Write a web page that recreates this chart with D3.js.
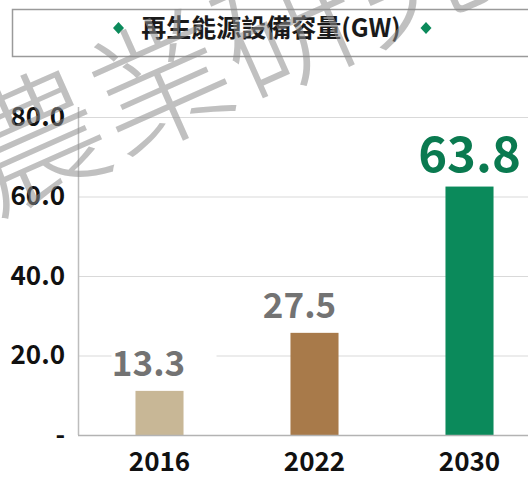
<!DOCTYPE html>
<meta charset="utf-8">
<title>再生能源設備容量</title>
<style>

body {
  margin: 0;
  background: #fff;
}

text {
  font-family: "Noto Sans CJK TC", "Noto Sans", sans-serif;
}

</style>
<body>
<script src="https://cdn.jsdelivr.net/npm/d3@7"></script>
<script>

var years = ["2016", "2022", "2030"],
    barValues = [11.1, 25.7, 62.5],
    labelValues = ["13.3", "27.5", "63.8"],
    yTicks = [0, 20, 40, 60, 80],
    yTickLabels = ["-", "20.0", "40.0", "60.0", "80.0"],
    title = "再生能源設備容量(GW)";

var w = 528,
    h = 478,
    barColors = ["#c8b796", "#a87a4a", "#0b8a5b"],
    labelColors = ["#737373", "#737373", "#0a7a50"],
    labelSizes = [35, 35, 49],
    labelShift = [-11, -15, 0];

var svg = d3.select("body").append("svg")
    .attr("width", w)
    .attr("height", h);

var x = d3.scaleBand()
    .domain(years)
    .range([82, 547])
    .paddingInner(0.69)
    .paddingOuter(0.345);

var y = d3.scaleLinear()
    .domain([0, 80])
    .range([435, 117]);

// title box
svg.append("rect")
    .attr("x", 12.5)
    .attr("y", 9.5)
    .attr("width", 540)
    .attr("height", 47)
    .style("fill", "#fff")
    .style("stroke", "#9a9a9a")
    .style("stroke-width", 1.5);

svg.append("text")
    .attr("x", 271)
    .attr("y", 37)
    .attr("text-anchor", "middle")
    .style("font-size", "25px")
    .style("font-weight", 700)
    .style("fill", "#1a1a1a")
    .text(title);

[118.5, 426].forEach(function(cx) {
  svg.append("path")
      .attr("d", "M" + cx + ",22L" + (cx + 5.5) + ",28L" + cx + ",34L" + (cx - 5.5) + ",28Z")
      .style("fill", "#0b8a5b");
});

// grid
svg.append("g").selectAll("line")
    .data(yTicks.slice(1))
  .enter().append("line")
    .attr("x1", 78)
    .attr("x2", w)
    .attr("y1", function(d) { return y(d) + 0.5; })
    .attr("y2", function(d) { return y(d) + 0.5; })
    .style("stroke", "#d9d9d9")
    .style("stroke-width", 1.2);

var yAxis = svg.append("g")
    .attr("transform", "translate(78,0)")
    .call(d3.axisLeft(y)
        .tickValues(yTicks)
        .tickSize(0)
        .tickPadding(13)
        .tickFormat(function(d, i) { return yTickLabels[i]; }));

yAxis.select(".domain").remove();
yAxis.selectAll("text")
    .style("font-family", "\"Noto Sans CJK TC\", sans-serif")
    .style("font-size", "26px")
    .style("font-weight", 600)
    .style("fill", "#111");

svg.append("line")
    .attr("x1", 78.5)
    .attr("x2", 78.5)
    .attr("y1", 107)
    .attr("y2", y(0))
    .style("stroke", "#bdbdbd")
    .style("stroke-width", 1.5);

// label backgrounds
svg.append("g").selectAll("rect")
    .data(years)
  .enter().append("rect")
    .attr("x", function(d, i) { return x(d) + x.bandwidth() / 2 + labelShift[i] - 37; })
    .attr("y", function(d, i) { return y(barValues[i]) - 16 - labelSizes[i] * 0.85; })
    .attr("width", function(d, i) { return labelSizes[i] * 3; })
    .attr("height", function(d, i) { return labelSizes[i] * 1.05; })
    .style("fill", "#fff");

svg.append("g").selectAll("rect")
    .data(years)
  .enter().append("rect")
    .attr("x", function(d) { return x(d); })
    .attr("y", function(d, i) { return y(barValues[i]); })
    .attr("width", x.bandwidth())
    .attr("height", function(d, i) { return y(0) - y(barValues[i]); })
    .style("fill", function(d, i) { return barColors[i]; });

svg.append("line")
    .attr("x1", 78)
    .attr("x2", w)
    .attr("y1", y(0) + 0.5)
    .attr("y2", y(0) + 0.5)
    .style("stroke", "#b3b3b3")
    .style("stroke-width", 1.5);

svg.append("g").selectAll("text")
    .data(years)
  .enter().append("text")
    .attr("x", function(d, i) { return x(d) + x.bandwidth() / 2 + labelShift[i]; })
    .attr("y", function(d, i) { return y(barValues[i]) - 15; })
    .attr("text-anchor", "middle")
    .style("font-size", function(d, i) { return labelSizes[i] + "px"; })
    .style("font-weight", 700)
    .style("fill", function(d, i) { return labelColors[i]; })
    .text(function(d, i) { return labelValues[i]; });

var xAxis = svg.append("g")
    .attr("transform", "translate(0," + y(0) + ")")
    .call(d3.axisBottom(x).tickSize(0).tickPadding(18));

xAxis.select(".domain").remove();
xAxis.selectAll("text")
    .style("font-family", "\"Noto Sans CJK TC\", sans-serif")
    .style("font-size", "26px")
    .style("font-weight", 600)
    .style("fill", "#111");

// watermark
svg.append("text")
    .attr("transform", "translate(-7,214)rotate(-24)")
    .style("font-size", "138px")
    .style("font-weight", 300)
    .style("fill", "#8c8c8c")
    .style("fill-opacity", 0.55)
    .text("農業研究院");

</script>
